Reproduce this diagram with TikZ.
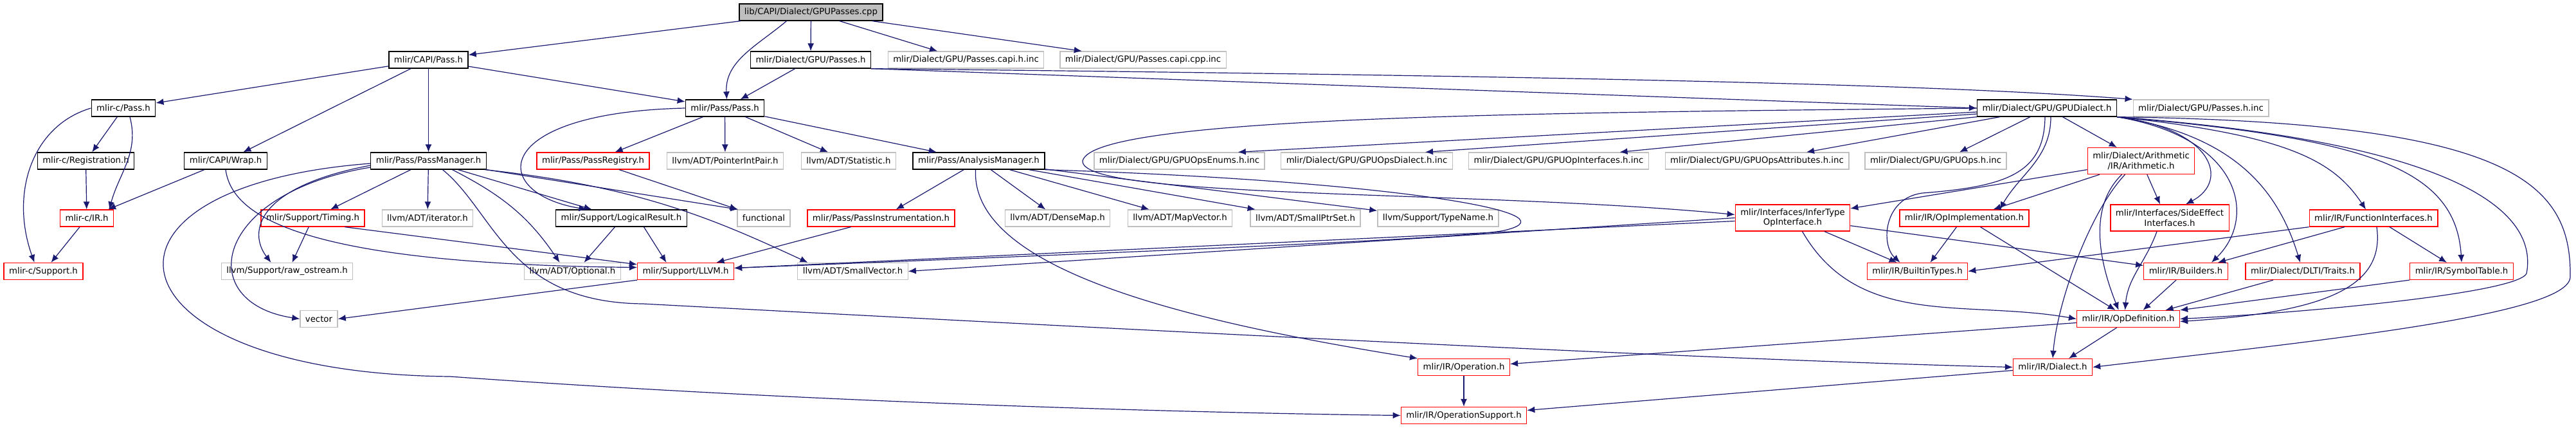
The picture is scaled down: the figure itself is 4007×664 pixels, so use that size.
\documentclass[tikz,border=0pt]{standalone}
\usepackage{fontspec}
\setmainfont{DejaVu Sans}
\usepackage{tikz}
\usetikzlibrary{arrows.meta}
\definecolor{EdgeBlue}{HTML}{191970}
\definecolor{RootGray}{HTML}{BFBFBF}
\definecolor{ExtGray}{HTML}{BFBFBF}
\definecolor{CutRed}{HTML}{FF0000}

\begin{document}
\begin{tikzpicture}[x=1pt, y=-1pt, font=\fontsize{13.3}{15.5}\selectfont,
  file/.style={rectangle, line width=1.3pt, inner xsep=8pt, inner ysep=0pt, minimum height=26pt, fill=white},
  rootfile/.style={file, draw=black, fill=RootGray},
  docfile/.style={file, draw=black},
  cutfile/.style={file, draw=CutRed},
  extfile/.style={file, draw=ExtGray},
  twoline/.style={align=center, minimum height=41pt},
  inc/.style={draw=EdgeBlue, line width=1.2pt, -{Latex[length=12pt,width=10pt]}}]
  \useasboundingbox (0,0) rectangle (4007,664);

  % Files, row by row
  \node[rootfile] (root) at (1261.5,19) {lib/CAPI/Dialect/GPUPasses.cpp};

  \node[docfile] (capipass) at (666.5,93) {mlir/CAPI/Pass.h};
  \node[docfile] (gpupasses) at (1261,93) {mlir/Dialect/GPU/Passes.h};
  \node[extfile] (capih) at (1502.5,93) {mlir/Dialect/GPU/Passes.capi.h.inc};
  \node[extfile] (capicpp) at (1778,93) {mlir/Dialect/GPU/Passes.capi.cpp.inc};

  \node[docfile] (cpass) at (192,168) {mlir-c/Pass.h};
  \node[docfile] (passh) at (1127.5,168) {mlir/Pass/Pass.h};
  \node[docfile] (gpudialect) at (3184,168) {mlir/Dialect/GPU/GPUDialect.h};
  \node[extfile] (passesinc) at (3423.5,168) {mlir/Dialect/GPU/Passes.h.inc};

  \node[docfile] (creg) at (133.5,250) {mlir-c/Registration.h};
  \node[docfile] (wrap) at (351,250) {mlir/CAPI/Wrap.h};
  \node[docfile] (passmgr) at (666.5,250) {mlir/Pass/PassManager.h};
  \node[cutfile] (passreg) at (922.5,250) {mlir/Pass/PassRegistry.h};
  \node[extfile] (ptrint) at (1128,250) {llvm/ADT/PointerIntPair.h};
  \node[extfile] (statistic) at (1320,250) {llvm/ADT/Statistic.h};
  \node[docfile] (analysis) at (1522.5,250) {mlir/Pass/AnalysisManager.h};
  \node[extfile] (opsenums) at (1834.5,250) {mlir/Dialect/GPU/GPUOpsEnums.h.inc};
  \node[extfile] (opsdialect) at (2126,250) {mlir/Dialect/GPU/GPUOpsDialect.h.inc};
  \node[extfile] (opinterfaces) at (2424.5,250) {mlir/Dialect/GPU/GPUOpInterfaces.h.inc};
  \node[extfile] (opsattr) at (2733,250) {mlir/Dialect/GPU/GPUOpsAttributes.h.inc};
  \node[extfile] (opsinc) at (3011,250) {mlir/Dialect/GPU/GPUOps.h.inc};
  \node[cutfile, twoline] (arith) at (3330.5,250) {mlir/Dialect/Arithmetic\\/IR/Arithmetic.h};

  \node[cutfile] (cir) at (135,339) {mlir-c/IR.h};
  \node[cutfile] (timing) at (486.5,339) {mlir/Support/Timing.h};
  \node[extfile] (iterator) at (665,339) {llvm/ADT/iterator.h};
  \node[docfile] (logical) at (966.5,339) {mlir/Support/LogicalResult.h};
  \node[extfile] (functional) at (1188,339) {functional};
  \node[cutfile] (passinstr) at (1370.5,339) {mlir/Pass/PassInstrumentation.h};
  \node[extfile] (densemap) at (1645,339) {llvm/ADT/DenseMap.h};
  \node[extfile] (mapvector) at (1835.5,339) {llvm/ADT/MapVector.h};
  \node[extfile] (smallptrset) at (2030.5,339) {llvm/ADT/SmallPtrSet.h};
  \node[extfile] (typename) at (2237,339) {llvm/Support/TypeName.h};
  \node[cutfile, twoline] (infertype) at (2788.5,338.5) {mlir/Interfaces/InferType\\OpInterface.h};
  \node[cutfile] (opimpl) at (3055.5,339) {mlir/IR/OpImplementation.h};
  \node[cutfile, twoline] (sideeffect) at (3375,338.5) {mlir/Interfaces/SideEffect\\Interfaces.h};
  \node[cutfile] (funciface) at (3692,339) {mlir/IR/FunctionInterfaces.h};

  \node[cutfile] (csupport) at (67.5,421.5) {mlir-c/Support.h};
  \node[extfile] (rawostream) at (446.5,421.5) {llvm/Support/raw\_ostream.h};
  \node[extfile] (optional) at (890.5,421.5) {llvm/ADT/Optional.h};
  \node[cutfile] (llvmh) at (1066.5,421.5) {mlir/Support/LLVM.h};
  \node[extfile] (smallvector) at (1326.5,421.5) {llvm/ADT/SmallVector.h};
  \node[cutfile] (builtintypes) at (2982.5,421.5) {mlir/IR/BuiltinTypes.h};
  \node[cutfile] (builders) at (3400,421.5) {mlir/IR/Builders.h};
  \node[cutfile] (dlti) at (3582,421.5) {mlir/Dialect/DLTI/Traits.h};
  \node[cutfile] (symtab) at (3829,421.5) {mlir/IR/SymbolTable.h};

  \node[extfile] (vector) at (496,495.5) {vector};
  \node[cutfile] (opdef) at (3310.5,495.5) {mlir/IR/OpDefinition.h};
  \node[cutfile] (operation) at (2277,570.5) {mlir/IR/Operation.h};
  \node[cutfile] (dialect) at (3193,570.5) {mlir/IR/Dialect.h};
  \node[cutfile] (opsupport) at (2277,645.5) {mlir/IR/OperationSupport.h};

  % GPUPasses.cpp
  \draw[inc] (root) -- (capipass);
  \draw[inc] ([xshift=-38pt]root.south) to[out=-140,in=93] ([xshift=3pt]passh.north);
  \draw[inc] (root) -- (gpupasses);
  \draw[inc] (root) -- (capih);
  \draw[inc] (root) -- (capicpp);

  % mlir/CAPI/Pass.h
  \draw[inc] (capipass) -- (cpass);
  \draw[inc] (capipass) -- (wrap);
  \draw[inc] (capipass) -- (passmgr);
  \draw[inc] (capipass) -- (passh);

  % mlir/Dialect/GPU/Passes.h
  \draw[inc] (gpupasses) -- (passh);
  \draw[inc] (gpupasses.south east) -- (gpudialect.west);
  \draw[inc] (gpupasses.south east) .. controls (2400,118) and (3000,130) .. (passesinc.north west);

  % mlir-c
  \draw[inc] (cpass) -- (creg);
  \draw[inc] ([xshift=10pt]cpass.south) to[out=-75,in=75] ([xshift=35pt]cir.north);
  \draw[inc] (cpass.west) .. controls (50,195) and (15,300) .. ([xshift=-14pt]csupport.north);
  \draw[inc] (creg) -- (cir);
  \draw[inc] ([xshift=-11pt]cir.south) -- ([xshift=12pt]csupport.north);

  % mlir/CAPI/Wrap.h
  \draw[inc] (wrap) -- (cir);
  \draw[inc] (wrap.south) .. controls (360,330) and (450,410) .. ([yshift=6pt]llvmh.west);

  % mlir/Pass/PassManager.h
  \draw[inc] (passmgr) -- (timing);
  \draw[inc] (passmgr) -- (iterator);
  \draw[inc] (passmgr) -- (logical);
  \draw[inc] ([yshift=-7pt]passmgr.west) .. controls (400,290) and (385,360) .. ([xshift=-25pt]rawostream.north);
  \draw[inc] ([yshift=-10pt]passmgr.west) .. controls (330,300) and (300,470) .. (vector.west);
  \draw[inc] ([yshift=-4pt]passmgr.west) .. controls (100,290) and (160,580) .. (700,585)
    .. controls (1300,628) and (1900,642) .. (opsupport.west);
  \draw[inc] ([xshift=22pt]passmgr.south) .. controls (770,330) and (790,470) .. (1000,472)
    .. controls (2000,525) and (2700,560) .. (dialect.west);
  \draw[inc] ([xshift=37pt]passmgr.south) to[out=-27,in=124] ([xshift=-20pt]optional.north);
  \draw[inc] (passmgr.south east) -- ([xshift=2pt]functional.north west);
  \draw[inc] ([xshift=-3pt]passmgr.south east) .. controls (1000,290) and (1120,345) .. ([xshift=-70pt]smallvector.north);

  % mlir/Pass/Pass.h
  \draw[inc] (passh) -- (passreg);
  \draw[inc] (passh) -- (ptrint);
  \draw[inc] (passh) -- (statistic);
  \draw[inc] (passh) -- (analysis);
  \draw[inc] (passh.west) .. controls (760,175) and (760,300) .. ([xshift=-54pt]logical.north);
  \draw[inc] (passreg) -- (functional);

  % mlir/Pass/AnalysisManager.h
  \draw[inc] (analysis) -- (passinstr);
  \draw[inc] (analysis) -- (densemap);
  \draw[inc] (analysis) -- (mapvector);
  \draw[inc] (analysis) -- (smallptrset);
  \draw[inc] (analysis) -- (typename);
  \draw[inc] ([xshift=-5pt]analysis.south) .. controls (1510,420) and (1850,500) .. (operation.north west);
  \draw[inc] (analysis.south east) .. controls (2150,280) and (2460,330) .. (2340,358)
    .. controls (2280,372) and (1600,398) .. ([yshift=5pt]llvmh.east);

  % mlir/Dialect/GPU/GPUDialect.h
  \draw[inc] ([yshift=-6pt]gpudialect.west) -- ([xshift=-42pt]opsenums.north east);
  \draw[inc] ([yshift=-9pt]gpudialect.west) -- ([xshift=91pt]opsdialect.north);
  \draw[inc] (gpudialect.south west) -- ([xshift=95pt]opinterfaces.north);
  \draw[inc] ([xshift=36pt]gpudialect.south west) -- ([xshift=77pt]opsattr.north);
  \draw[inc] ([xshift=-26pt]gpudialect.south) -- ([xshift=37pt]opsinc.north);
  \draw[inc] (gpudialect) -- (arith);
  \draw[inc] ([xshift=6pt]gpudialect.south) to[out=-90,in=60] ([xshift=55pt]opimpl.north);
  \draw[inc] ([xshift=-3pt]gpudialect.south) .. controls (3180,270) and (3120,290) .. (2990,300)
    .. controls (2930,308) and (2925,380) .. ([xshift=-27pt]builtintypes.north);
  \draw[inc] (gpudialect.south east) .. controls (3440,200) and (3470,280) .. ([xshift=25pt]sideeffect.north);
  \draw[inc] (gpudialect.south east) .. controls (3490,215) and (3510,340) .. ([xshift=40pt]builders.north);
  \draw[inc] (gpudialect.south east) .. controls (3480,210) and (3545,300) .. ([xshift=-4pt]dlti.north);
  \draw[inc] (gpudialect.south east) .. controls (3560,210) and (3630,250) .. ([xshift=-12pt]funciface.north);
  \draw[inc] (gpudialect.south east) .. controls (3680,215) and (3820,260) .. (symtab.north);
  \draw[inc] (gpudialect.south east) .. controls (3800,220) and (3950,320) .. (3930,425)
    .. controls (3915,455) and (3600,485) .. (opdef.east);
  \draw[inc] (gpudialect.south east) .. controls (3900,190) and (4000,280) .. (3998,430)
    .. controls (3998,490) and (3600,530) .. (dialect.east);
  \draw[inc] (gpudialect.west) .. controls (2400,175) and (1700,180) .. (1684,250)
    .. controls (1680,310) and (2300,295) .. ([yshift=5pt]infertype.west);

  % mlir/Dialect/Arithmetic/IR/Arithmetic.h
  \draw[inc] (arith) -- (infertype);
  \draw[inc] (arith) -- ([xshift=45pt]opimpl.north);
  \draw[inc] (arith) -- ([xshift=-15pt]sideeffect.north);
  \draw[inc] ([xshift=-30pt]arith.south) .. controls (3240,330) and (3275,430) .. ([xshift=-15pt]opdef.north);
  \draw[inc] ([xshift=-25pt]arith.south) .. controls (3250,330) and (3200,470) .. (dialect.north);

  % mlir/Interfaces/InferTypeOpInterface.h
  \draw[inc] ([yshift=-5pt]infertype.west) -- ([yshift=5pt]llvmh.east);
  \draw[inc] (infertype.west) -- (smallvector.east);
  \draw[inc] (infertype) -- (builtintypes);
  \draw[inc] (infertype) -- (builders);
  \draw[inc] ([xshift=15pt]infertype.south) to[out=-60,in=170] (opdef.west);

  % mlir/IR
  \draw[inc] ([xshift=-12pt]opimpl.south) -- ([xshift=20pt]builtintypes.north);
  \draw[inc] ([xshift=25pt]opimpl.south) -- ([xshift=-20pt]opdef.north);
  \draw[inc] ([xshift=-20pt]sideeffect.south) to[out=-110,in=85] ([xshift=-5pt]opdef.north);
  \draw[inc] (funciface.south west) -- (builtintypes.east);
  \draw[inc] ([xshift=-45pt]funciface.south) -- ([xshift=50pt]builders.north);
  \draw[inc] ([xshift=25pt]funciface.south) -- ([xshift=-23pt]symtab.north);
  \draw[inc] ([xshift=5pt]funciface.south) .. controls (3710,445) and (3620,485) .. ([yshift=-4pt]opdef.east);
  \draw[inc] ([xshift=-15pt]builders.south) -- ([xshift=23pt]opdef.north);
  \draw[inc] ([xshift=-46pt]dlti.south) -- ([xshift=58pt]opdef.north);
  \draw[inc] (symtab.south west) -- (opdef.north east);
  \draw[inc] ([yshift=-6pt]opdef.west) -- ([yshift=5pt]operation.east);
  \draw[inc] ([xshift=-18pt]opdef.south) -- ([xshift=25pt]dialect.north);
  \draw[inc] (operation) -- (opsupport);
  \draw[inc] ([yshift=-5pt]dialect.west) -- ([yshift=8pt]opsupport.east);

  % mlir/Support
  \draw[inc] (timing) -- ([xshift=8pt]rawostream.north);
  \draw[inc] ([xshift=50pt]timing.south) -- ([yshift=-3pt]llvmh.north west);
  \draw[inc] ([xshift=-10pt]logical.south) -- ([xshift=18pt]optional.north);
  \draw[inc] ([xshift=35pt]logical.south) -- ([xshift=-30pt]llvmh.north);
  \draw[inc] ([xshift=-47pt]passinstr.south) -- ([xshift=48pt]llvmh.north);
  \draw[inc] (llvmh.south west) -- (vector.east);
\end{tikzpicture}
\end{document}
